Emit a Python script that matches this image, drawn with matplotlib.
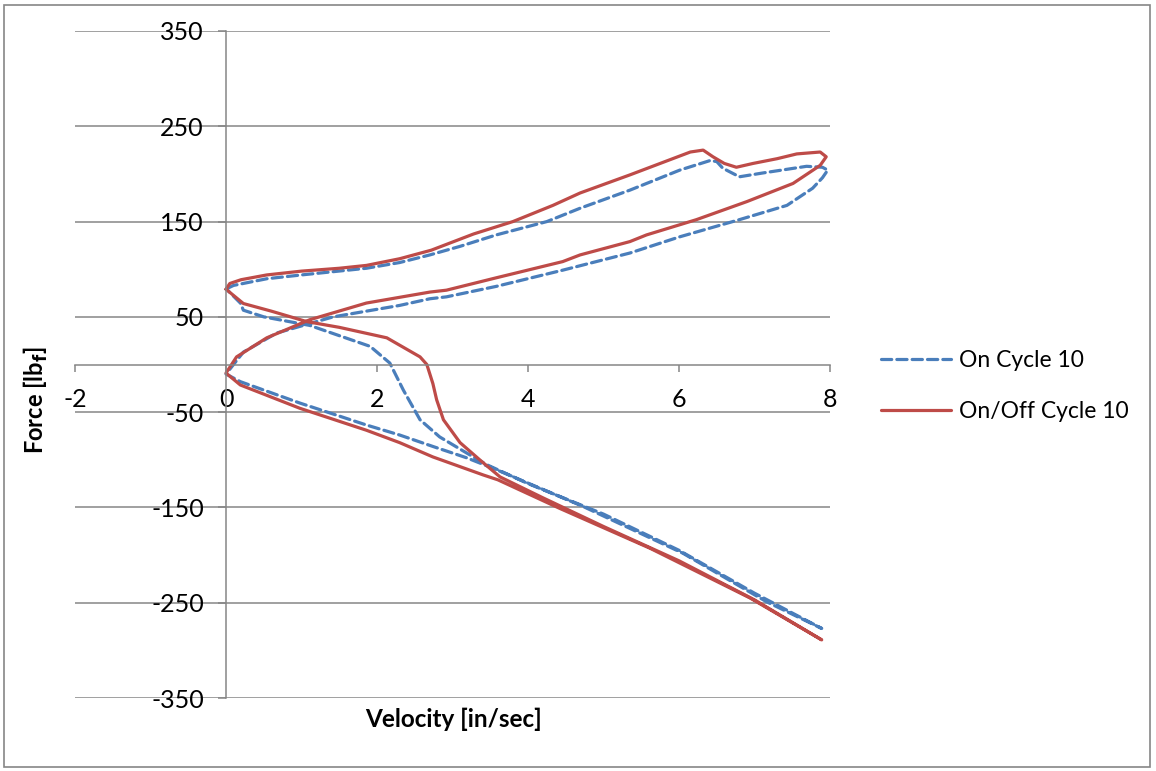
import matplotlib
matplotlib.use("Agg")
import matplotlib.pyplot as plt
from matplotlib.patches import Rectangle

# ---- data (velocity in/sec, force lbf) ----
on_vel = [0.02, 0.1, 0.54, 1.0, 1.86, 2.3, 2.7, 3.1, 3.58, 4.25, 4.69, 5.35, 6.01, 6.41, 6.5, 6.58, 6.8, 7.11, 7.69, 7.9, 7.97,
          7.9, 7.77, 7.43, 6.8, 6.01, 5.35, 4.46, 3.58, 2.92, 2.7, 2.3, 1.42, 0.67, 0.23, 0.0,
          0.19, 0.98, 1.86, 2.3, 2.74, 3.19, 3.54, 4.73, 6.05, 7.16, 7.89,
          7.0, 6.0, 5.0, 4.0, 3.45, 3.19, 2.83, 2.57, 2.35, 2.17, 1.91, 1.11, 0.5, 0.23, 0.19, 0.02]
on_force = [80, 83, 90, 94, 101, 107, 115, 124, 136, 150, 164, 183, 204, 214, 213, 206, 197, 201, 208, 207, 204,
            196, 185, 167, 152, 134, 117, 99, 82, 71, 69, 62, 50, 33, 13, -10,
            -18, -40.5, -63.5, -74, -86, -98, -109, -149, -198, -249, -277,
            -240, -195, -157, -125, -105, -93, -76, -58, -27, 1.5, 19, 41, 50, 57, 64.5, 78]

onoff_vel = [0.0, 0.05, 0.2, 0.54, 1.0, 1.5, 1.86, 2.3, 2.72, 3.28, 3.8, 4.33, 4.69, 5.35, 6.15, 6.32, 6.45, 6.6, 6.76, 6.98, 7.3, 7.56, 7.87, 7.95,
             7.87, 7.51, 6.9, 6.23, 5.57, 5.35, 4.69, 4.46, 3.58, 2.92, 2.7, 1.86, 1.11, 0.54, 0.14, 0.0,
             0.19, 0.98, 1.86, 2.3, 2.74, 3.41, 3.6, 4.42, 5.62, 6.94, 7.89,
             7.0, 6.0, 5.0, 4.2, 3.63, 3.36, 3.1, 2.88, 2.79, 2.74, 2.66, 2.57, 2.13, 1.5, 1.07, 0.6, 0.23, 0.0]
onoff_force = [79, 85, 89, 94, 98, 101, 104, 111, 120, 137, 150, 167, 180, 199, 223, 225, 218, 211, 207, 211, 216, 221, 223, 218,
               209, 190, 171, 152, 136, 129, 115, 108, 91, 78, 76, 64.5, 47, 28, 8, -9,
               -21.5, -46, -69, -82, -97, -116, -121, -151, -193, -245, -289,
               -247, -206, -170, -140, -118, -100, -82, -58, -37, -20, 0, 8, 28, 39, 45, 56, 64, 79]

x_ticks = [-2, 0, 2, 4, 6, 8]
y_ticks = [-350, -250, -150, -50, 50, 150, 250, 350]

series_labels = ["On Cycle 10", "On/Off Cycle 10"]

GRAY = "#868686"
BLUE = "#4A7EBB"
RED = "#BE4B48"

plt.rcParams['font.family'] = ['Lato', 'DejaVu Sans']

fig = plt.figure(figsize=(11.56, 7.71), dpi=100)
ax = fig.add_axes([75/1156, 1-698/771, 755/1156, 667/771])

ax.plot(on_vel, on_force, color=BLUE, lw=2.3, dashes=(3.2, 1.6), solid_joinstyle='round',
        dash_capstyle='round', label=series_labels[0])
ax.plot(onoff_vel, onoff_force, color=RED, lw=2.3, solid_joinstyle='round',
        solid_capstyle='round', label=series_labels[1])

ax.set_xlim(-2, 8)
ax.set_ylim(-350, 350)
ax.set_xticks(x_ticks)
ax.set_yticks(y_ticks)
ax.set_xticklabels([str(v) for v in x_ticks])
ax.set_yticklabels([str(v) for v in y_ticks])

for s in ['top', 'right']:
    ax.spines[s].set_visible(False)
ax.spines['left'].set_position(('data', 0))
ax.spines['bottom'].set_position(('data', 0))
for s in ['left', 'bottom']:
    ax.spines[s].set_color(GRAY)
    ax.spines[s].set_linewidth(1.1)

ax.yaxis.grid(True, color=GRAY, lw=1.1)
ax.set_axisbelow(True)
ax.tick_params(axis='x', direction='out', length=5, width=1.1, color=GRAY,
               labelsize=18, pad=12)
ax.tick_params(axis='y', direction='out', length=6, width=1.1, color=GRAY,
               labelsize=18, pad=10)

ax.set_xlabel("Velocity [in/sec]", fontsize=17.5, fontweight='bold')
ax.xaxis.set_label_coords((454-75)/755, (698-708)/667)
ax.set_ylabel("Force [lb$_\\mathbf{f}$]", fontsize=17, fontweight='bold')
ax.yaxis.set_label_coords((50-75)/755, 1-(400-31)/667)

leg = fig.legend(loc='center left', bbox_to_anchor=(860/1156, 1-386/771),
                 frameon=False, fontsize=16.5, handlelength=3.05, handletextpad=0.35,
                 labelspacing=1.3)

fig.patches.append(Rectangle((4/1156, 4/771), 1146/1156, 762/771, transform=fig.transFigure,
                             fill=False, edgecolor=GRAY, lw=1.2))

fig.savefig("out.png", dpi=100, facecolor='white')
